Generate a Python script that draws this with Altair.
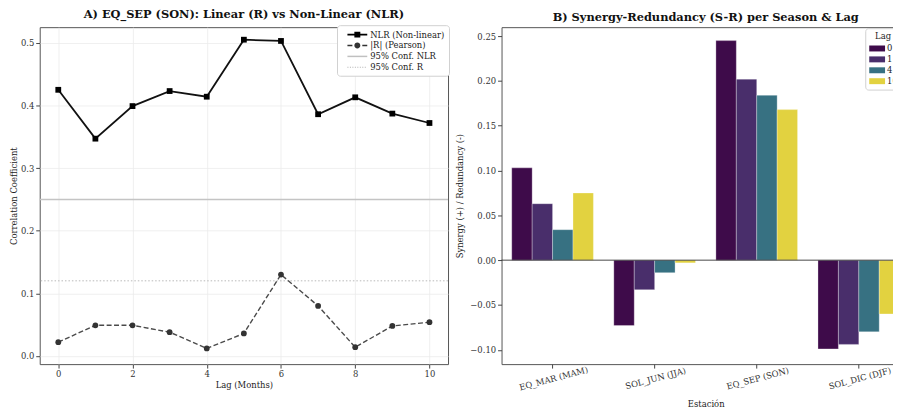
import altair as alt
import pandas as pd

# ---------------- data ----------------
lags = list(range(11))
nlr = [0.425, 0.347, 0.399, 0.423, 0.414, 0.505, 0.503, 0.386, 0.413, 0.387, 0.372]
pearson = [0.022, 0.049, 0.049, 0.038, 0.012, 0.036, 0.130, 0.080, 0.014, 0.048, 0.054]
conf_nlr = 0.25
conf_r = 0.12
series_names = ["NLR (Non-linear)", "|R| (Pearson)", "95% Conf. NLR", "95% Conf. R"]

seasons = ["EQ_MAR (MAM)", "SOL_JUN (JJA)", "EQ_SEP (SON)", "SOL_DIC (DJF)"]
bar_lags = ["0", "1", "4", "10"]
sr_lag0 = [0.103, -0.073, 0.245, -0.099]
sr_lag1 = [0.063, -0.033, 0.202, -0.094]
sr_lag4 = [0.034, -0.014, 0.184, -0.080]
sr_lag10 = [0.075, -0.003, 0.168, -0.060]

FONT = "DejaVu Serif"

# ---------------- panel A ----------------
df_lines = pd.DataFrame({"lag": lags, "nlr": nlr, "r": pearson})
df_conf = pd.DataFrame({"name": series_names[2:], "y": [conf_nlr, conf_r]})
df_leg = pd.DataFrame({"name": series_names})

xA = alt.X("lag:Q", scale=alt.Scale(domain=[-0.5, 10.5], nice=False, zero=False),
           axis=alt.Axis(values=[0, 2, 4, 6, 8, 10], format="d", title="Lag (Months)",
                         grid=True, labelPadding=1, titlePadding=3))
yA_scale = alt.Scale(domain=[-0.013, 0.525], nice=False, zero=False)
yA_axis = alt.Axis(values=[0, 0.1, 0.2, 0.3, 0.4, 0.5], format=".1f",
                   title="Correlation Coefficient", grid=True, labelPadding=2, titlePadding=2)

conf_nlr_rule = alt.Chart(df_conf.iloc[[0]]).mark_rule(color="#c4c4c4", strokeWidth=1.5).encode(
    y=alt.Y("y:Q", scale=yA_scale, axis=yA_axis))
conf_r_rule = alt.Chart(df_conf.iloc[[1]]).mark_rule(color="#b8b8b8", strokeWidth=1,
                                                     strokeDash=[1.5, 2]).encode(
    y=alt.Y("y:Q", scale=yA_scale, axis=yA_axis))

r_line = alt.Chart(df_lines).mark_line(color="#4a4a4a", strokeWidth=1.4, strokeDash=[5, 2.5]).encode(
    x=xA, y=alt.Y("r:Q", scale=yA_scale, axis=yA_axis))
r_pts = alt.Chart(df_lines).mark_point(filled=True, shape="circle", size=34, color="#333333",
                                       opacity=1).encode(
    x=xA, y=alt.Y("r:Q", scale=yA_scale, axis=yA_axis))
nlr_line = alt.Chart(df_lines).mark_line(color="#111111", strokeWidth=1.8).encode(
    x=xA, y=alt.Y("nlr:Q", scale=yA_scale, axis=yA_axis))
nlr_pts = alt.Chart(df_lines).mark_point(filled=True, shape="square", size=34, color="#000000",
                                         opacity=1).encode(
    x=xA, y=alt.Y("nlr:Q", scale=yA_scale, axis=yA_axis))

# legend glyphs (line + marker) as custom symbol paths, drawn in pixels / r
LEG_SIZE = 121
R = (LEG_SIZE ** 0.5) / 2


def rect(x0, x1, h):
    a, b, c = x0 / R, x1 / R, h / 2 / R
    return f"M{a:.4f},{-c:.4f}H{b:.4f}V{c:.4f}H{a:.4f}Z"


def circle(rad):
    c = rad / R
    return f"M{-c:.4f},0A{c:.4f},{c:.4f} 0 1,0 {c:.4f},0A{c:.4f},{c:.4f} 0 1,0 {-c:.4f},0Z"


def dotted():
    parts = []
    x = -10.0
    while x < 10.0:
        parts.append(rect(x, min(x + 1.0, 10.0), 1.0))
        x += 2.5
    return "".join(parts)


sym_nlr = rect(-10, 10, 1.8) + rect(-3, 3, 6)
sym_r = rect(-10, -5, 1.4) + rect(5, 10, 1.4) + circle(3)
sym_cn = rect(-10, 10, 1.5)
sym_cr = dotted()

legend_layer = alt.Chart(df_leg).mark_point(filled=True, opacity=0, size=LEG_SIZE).encode(
    x=alt.value(0), y=alt.value(0),
    color=alt.Color("name:N", sort=series_names,
                    scale=alt.Scale(domain=series_names,
                                    range=["#000000", "#333333", "#c0c0c0", "#b0b0b0"]),
                    legend=alt.Legend(title=None, orient="none", legendX=300, legendY=-2,
                                      fillColor="white", strokeColor="#d0d0d0",
                                      cornerRadius=3, padding=4, symbolSize=LEG_SIZE,
                                      symbolOpacity=1, symbolStrokeWidth=0,
                                      symbolOffset=11, labelOffset=7.5,
                                      labelFont=FONT, labelFontSize=8.5, labelColor="#222",
                                      rowPadding=1)),
    shape=alt.Shape("name:N", sort=series_names,
                    scale=alt.Scale(domain=series_names, range=[sym_nlr, sym_r, sym_cn, sym_cr]),
                    legend=None),
)

panelA = alt.layer(conf_nlr_rule, conf_r_rule, r_line, r_pts, nlr_line, nlr_pts, legend_layer).properties(
    width=412, height=340,
    title=alt.TitleParams("A) EQ_SEP (SON): Linear (R) vs Non-Linear (NLR)", font=FONT,
                          fontSize=11.5, fontWeight="bold", offset=4, color="#111"),
)

# ---------------- panel B ----------------
rows = []
for lag, vals in zip(bar_lags, [sr_lag0, sr_lag1, sr_lag4, sr_lag10]):
    for s, v in zip(seasons, vals):
        rows.append({"season": s, "lag": lag, "value": v})
df_bars = pd.DataFrame(rows)

bar_colors = ["#3e0b4a", "#492e6b", "#377182", "#e2d240"]
yB_scale = alt.Scale(domain=[-0.116, 0.26], nice=False, zero=False)
yB_axis = alt.Axis(values=[-0.10, -0.05, 0.0, 0.05, 0.10, 0.15, 0.20, 0.25], format=".2f",
                   title="Synergy (+) / Redundancy (-)", grid=False, labelPadding=2,
                   titlePadding=5)

bars = alt.Chart(df_bars).mark_bar(stroke="white", strokeWidth=0.5, strokeOpacity=0.6).encode(
    x=alt.X("season:N", sort=seasons,
            scale=alt.Scale(paddingInner=0.2, paddingOuter=0.1),
            axis=alt.Axis(title="Estación", labelAngle=345, labelAlign="center",
                          labelBaseline="top", grid=False, labelPadding=6, titlePadding=8)),
    xOffset=alt.XOffset("lag:N", sort=bar_lags, scale=alt.Scale(paddingInner=0, paddingOuter=0)),
    y=alt.Y("value:Q", scale=yB_scale, axis=yB_axis),
    color=alt.Color("lag:N", sort=bar_lags,
                    scale=alt.Scale(domain=bar_lags, range=bar_colors),
                    legend=alt.Legend(title="Lag", orient="none", legendX=367, legendY=1,
                                      fillColor="white", strokeColor="#d0d0d0",
                                      cornerRadius=3, padding=4,
                                      symbolType="M-1.33,-0.5H1.33V0.5H-1.33Z", symbolSize=144,
                                      symbolStrokeWidth=0, symbolOffset=2, labelOffset=4,
                                      titleAnchor="middle", titlePadding=2,
                                      titleFont=FONT, titleFontSize=8.5, titleFontWeight="normal",
                                      titleColor="#222", labelFont=FONT, labelFontSize=8.5,
                                      labelColor="#222", rowPadding=0)),
)
zero_rule = alt.Chart(pd.DataFrame({"y": [0.0]})).mark_rule(color="#333333", strokeWidth=0.9).encode(
    y=alt.Y("y:Q", scale=yB_scale, axis=yB_axis))

panelB = alt.layer(bars, zero_rule).properties(
    width=412, height=340,
    title=alt.TitleParams("B) Synergy-Redundancy (S-R) per Season & Lag", font=FONT,
                          fontSize=11.5, fontWeight="bold", offset=4, color="#111"),
)

chart = alt.hconcat(panelA, panelB, spacing=5).resolve_scale(
    color="independent", shape="independent"
).resolve_legend(color="independent", shape="independent").properties(
    autosize=alt.AutoSizeParams(type="none"),
    padding={"left": 32, "top": 16, "right": 861, "bottom": 384},
).configure(
    font=FONT
).configure_view(stroke="#555555", strokeWidth=1).configure_axis(
    labelFont=FONT, labelFontSize=8.5, labelColor="#333",
    titleFont=FONT, titleFontSize=8.5, titleFontWeight="normal", titleColor="#222",
    domain=False, tickColor="#444", tickSize=4, gridColor="#ebebeb", gridWidth=0.8,
)

chart.save("out.html", embed_options={"renderer": "svg", "actions": False})
